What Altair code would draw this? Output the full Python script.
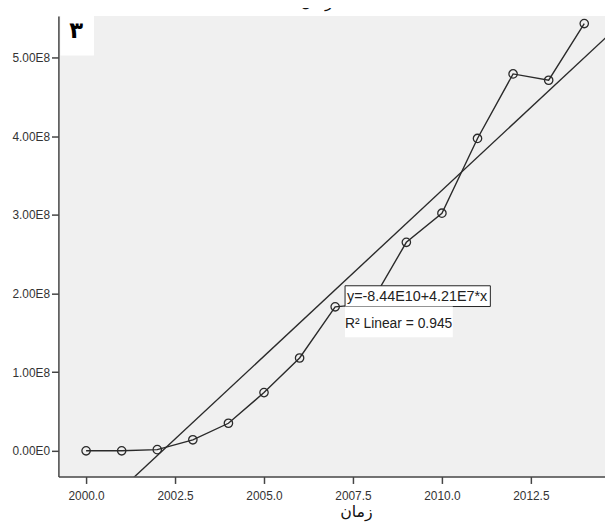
import altair as alt
import pandas as pd

# ---- data ----
years = [2000, 2001, 2002, 2003, 2004, 2005, 2006, 2007, 2008, 2009, 2010, 2011, 2012, 2013, 2014]
values = [0.0, 0.0, 1.5e6, 1.4e7, 3.5e7, 7.4e7, 1.18e8, 1.83e8, 1.87e8, 2.65e8, 3.02e8, 3.97e8, 4.79e8, 4.71e8, 5.43e8]
x_ticks = [2000.0, 2002.5, 2005.0, 2007.5, 2010.0, 2012.5]
y_ticks = [0, 1e8, 2e8, 3e8, 4e8, 5e8]
equation_label = ["y=-8.44E10+4.21E7*x"]
r2_label = ["R\u00b2 Linear = 0.945"]
panel_label = ["\u0663"]
axis_title = "زمان"

df = pd.DataFrame({"year": years, "value": values})
ann = pd.DataFrame({"eq": equation_label, "r2": r2_label, "panel": panel_label, "top": [axis_title]})

x_scale = alt.Scale(domain=[1999.222, 2014.583], nice=False, zero=False)
y_scale = alt.Scale(domain=[-3.27e7, 5.527e8], nice=False, zero=False)

x_axis = alt.Axis(values=x_ticks, format=".1f", title=axis_title, titleX=301, titleY=40,
                  titleAlign="center", titleBaseline="alphabetic", titleFont="DejaVu Sans",
                  titleFontSize=16, titleFontWeight="normal", titleColor="#111", labelPadding=7)
y_axis = alt.Axis(values=y_ticks, title=None, labelPadding=2,
                  labelExpr="datum.value == 0 ? '0.00E0' : format(datum.value / 1e8, '.2f') + 'E8'")

base = alt.Chart(df).encode(
    x=alt.X("year:Q", scale=x_scale, axis=x_axis),
    y=alt.Y("value:Q", scale=y_scale, axis=y_axis),
)

reg = base.transform_regression("year", "value", extent=[1998, 2017]).mark_line(
    clip=True, color="#2a2a2a", strokeWidth=1.4)
line = base.mark_line(color="#2a2a2a", strokeWidth=1.4)
pts = base.mark_point(filled=False, size=72, color="#2a2a2a", strokeWidth=1.3, opacity=1)

ann_base = alt.Chart(ann)
box1 = ann_base.mark_rect(fill="white", stroke="#222", strokeWidth=1).encode(
    x=alt.value(290), x2=alt.value(437), y=alt.value(273), y2=alt.value(294))
box2 = ann_base.mark_rect(fill="white").encode(
    x=alt.value(290), x2=alt.value(399), y=alt.value(294), y2=alt.value(325))
t1 = ann_base.mark_text(align="left", baseline="middle", fontSize=14.5, font="Liberation Sans",
                        color="#222").encode(x=alt.value(292), y=alt.value(284), text="eq:N")
t2 = ann_base.mark_text(align="left", baseline="middle", fontSize=14, font="Liberation Sans",
                        color="#222").encode(x=alt.value(290), y=alt.value(312), text="r2:N")
pbox = ann_base.mark_rect(fill="white").encode(
    x=alt.value(2), x2=alt.value(36), y=alt.value(0), y2=alt.value(40))
ptxt = ann_base.mark_text(align="center", baseline="middle", fontSize=23, fontWeight="bold",
                          font="DejaVu Sans", color="#000").encode(
    x=alt.value(18), y=alt.value(15), text="panel:N")
ttxt = ann_base.mark_text(align="center", baseline="alphabetic", fontSize=16,
                          font="DejaVu Sans", color="#111").encode(
    x=alt.value(261), y=alt.value(-9), text="top:N")

chart = alt.layer(reg, line, pts, box1, box2, t1, t2, pbox, ptxt, ttxt).properties(
    width=553, height=466,
    autosize=alt.AutoSizeParams(type="none"),
    padding={"left": 51, "top": 5, "right": 0, "bottom": 46},
).configure_view(fill="#F0F0F0", stroke=None).configure_axis(
    domainColor="#444", domainWidth=1.5, tickColor="#444", tickWidth=1.5, tickSize=7,
    labelFont="Liberation Sans", labelFontSize=12, labelColor="#333", grid=False,
)

chart.save("out.html", embed_options={"renderer": "svg", "actions": False})
